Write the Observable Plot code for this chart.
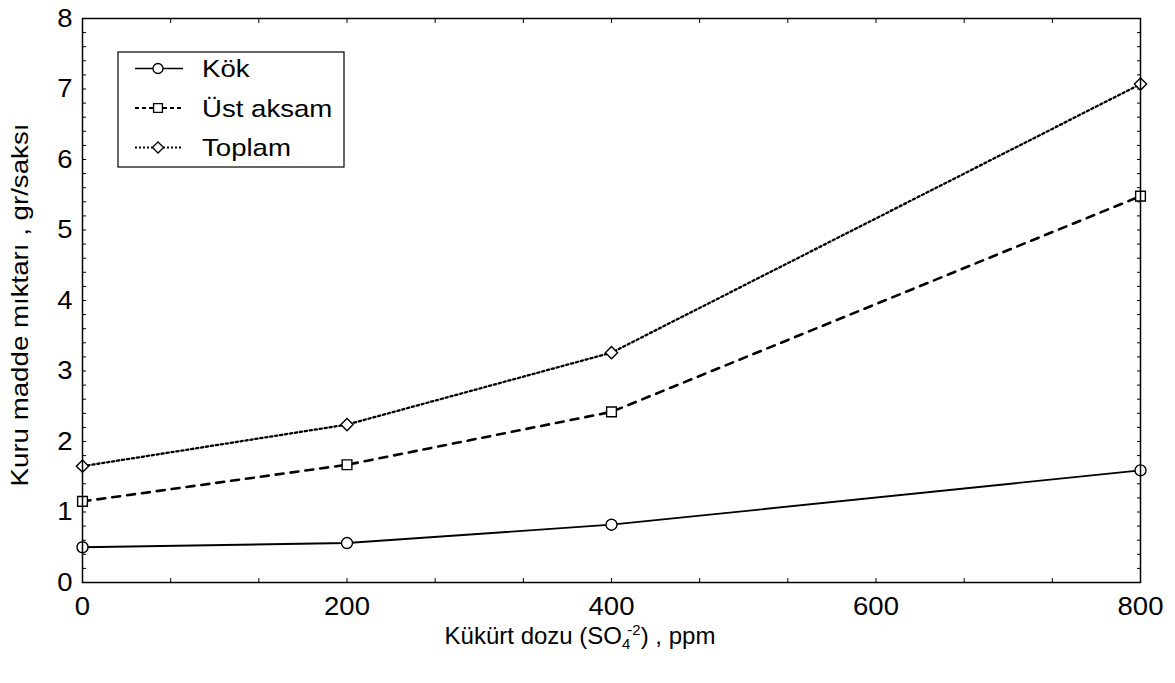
<!DOCTYPE html>
<html><head><meta charset="utf-8">
<script src="https://cdn.jsdelivr.net/npm/d3@7"></script>
<script src="https://cdn.jsdelivr.net/npm/@observablehq/plot@0.6"></script>
<style>
body{margin:0;background:#fff}
#chart svg text{font-family:"Liberation Sans",Arial,sans-serif}
</style></head><body><div id="chart"></div>
<script>
// ---- data ----
const doses = [0, 200, 400, 800];
const kok = [0.50, 0.56, 0.82, 1.59];
const ust = [1.15, 1.67, 2.42, 5.48];
const toplam = [1.65, 2.24, 3.26, 7.07];
const seriesNames = ["Kök", "Üst aksam", "Toplam"];
const xTicks = [0, 200, 400, 600, 800];
const yTicks = [0, 1, 2, 3, 4, 5, 6, 7, 8];
const xMinorTicks = d3.range(0, 800.01, 200 / 3);
const yMinorTicks = d3.range(0, 8.001, 0.2);
const yTitle = "Kuru madde mıktarı , gr/saksı";

const seriesValues = [kok, ust, toplam];
const table = seriesNames.flatMap((s, i) => doses.map((d, j) => ({series: s, dose: d, value: seriesValues[i][j]})));
const styles = {
  "Kök": {dash: null, width: 1.8, symbol: "circle", legendDash: null, legendWidth: 1.4, d3sym: d3.symbolCircle},
  "Üst aksam": {dash: "8,7", width: 2.6, symbol: "square", legendDash: "4,3", legendWidth: 1.8, d3sym: d3.symbolSquare},
  "Toplam": {dash: "2.2,2.8", width: 2.3, symbol: "diamond2", legendDash: "2,2", legendWidth: 1.8, d3sym: d3.symbolDiamond2}
};
const S_TICK = 1.1, S_LEG = 1.15, S_Y = 1.13;

const marks = [];
seriesNames.forEach(s => {
  const st = styles[s];
  marks.push(Plot.line(table.filter(d => d.series === s), {x: "dose", y: "value", stroke: "black", strokeWidth: st.width, strokeDasharray: st.dash}));
});
seriesNames.forEach(s => {
  const st = styles[s];
  marks.push(Plot.dot(table.filter(d => d.series === s), {x: "dose", y: "value", symbol: () => st.symbol, r: 5.5, fill: "white", stroke: "black", strokeWidth: 1.4}));
});

const chart = Plot.plot({
  width: 1175, height: 683,
  marginLeft: 82, marginRight: 35, marginTop: 18, marginBottom: 101,
  style: {fontFamily: "Liberation Sans, Arial, sans-serif", fontSize: "25px", color: "black", background: "white"},
  x: {domain: [0, 800]},
  y: {domain: [0, 8]},
  symbol: {type: "identity"},
  marks: [
    Plot.axisX(xMinorTicks, {anchor: "bottom", tickSize: -4, text: null, label: null}),
    Plot.axisX(xMinorTicks, {anchor: "top", tickSize: -4, text: null, label: null}),
    Plot.axisY(yMinorTicks, {anchor: "left", tickSize: -4, text: null, label: null}),
    Plot.axisY(yMinorTicks, {anchor: "right", tickSize: -4, text: null, label: null}),
    Plot.axisX(xTicks, {anchor: "bottom", tickSize: 0, tickPadding: 15, label: null, fontSize: 25, tickFormat: d => String(d)}),
    Plot.axisY(yTicks, {anchor: "left", tickSize: 0, tickPadding: 10, label: null, fontSize: 25, tickFormat: d => String(d)}),
    ...marks,
    Plot.frame({stroke: "black", strokeWidth: 1.5})
  ]
});
document.getElementById("chart").appendChild(chart);

// stretch tick labels horizontally to match the scanned lettering (keep em-based offsets)
chart.querySelectorAll('g[aria-label="x-axis tick label"] text, g[aria-label="y-axis tick label"] text').forEach(t => {
  const tr = t.getAttribute("transform") || "";
  const xa = t.getAttribute("x");
  let extra = "";
  if (xa !== null && isFinite(+xa)) { extra = ` translate(${+xa},0)`; t.removeAttribute("x"); }
  t.setAttribute("transform", `${tr}${extra} scale(${S_TICK},1)`);
});

const svg = d3.select(chart);
// x axis title with sub/superscript
const xt = svg.append("text").attr("transform", "translate(580,644)")
  .attr("text-anchor", "middle").attr("font-size", 24).attr("fill", "black");
xt.append("tspan").text("Kükürt dozu (SO");
xt.append("tspan").attr("font-size", 15).attr("dy", 5).text("4");
xt.append("tspan").attr("font-size", 15).attr("dy", -14).attr("dx", -3).text("-2");
xt.append("tspan").attr("dy", 9).text(") , ppm");
// y axis title
svg.append("text").attr("transform", `translate(28,305) rotate(-90) scale(${S_Y},1)`)
  .attr("text-anchor", "middle").attr("font-size", 24.5).attr("fill", "black").text(yTitle);

// legend
const lg = svg.append("g").attr("transform", "translate(118,52)");
lg.append("rect").attr("width", 226).attr("height", 115).attr("fill", "white").attr("stroke", "black").attr("stroke-width", 1.2);
seriesNames.forEach((s, i) => {
  const st = styles[s];
  const cy = 16.5 + i * 39.5;
  lg.append("line").attr("x1", 17).attr("x2", 65).attr("y1", cy).attr("y2", cy)
    .attr("stroke", "black").attr("stroke-width", st.legendWidth).attr("stroke-dasharray", st.legendDash);
  lg.append("path").attr("transform", `translate(40,${cy})`)
    .attr("d", d3.symbol(st.d3sym, Math.PI * 5 * 5)())
    .attr("fill", "white").attr("stroke", "black").attr("stroke-width", 1.3);
  lg.append("text").attr("transform", `translate(84,${cy + 8.5}) scale(${S_LEG},1)`)
    .attr("text-anchor", "start").attr("font-size", 24).attr("fill", "black").text(s);
});
</script></body></html>
